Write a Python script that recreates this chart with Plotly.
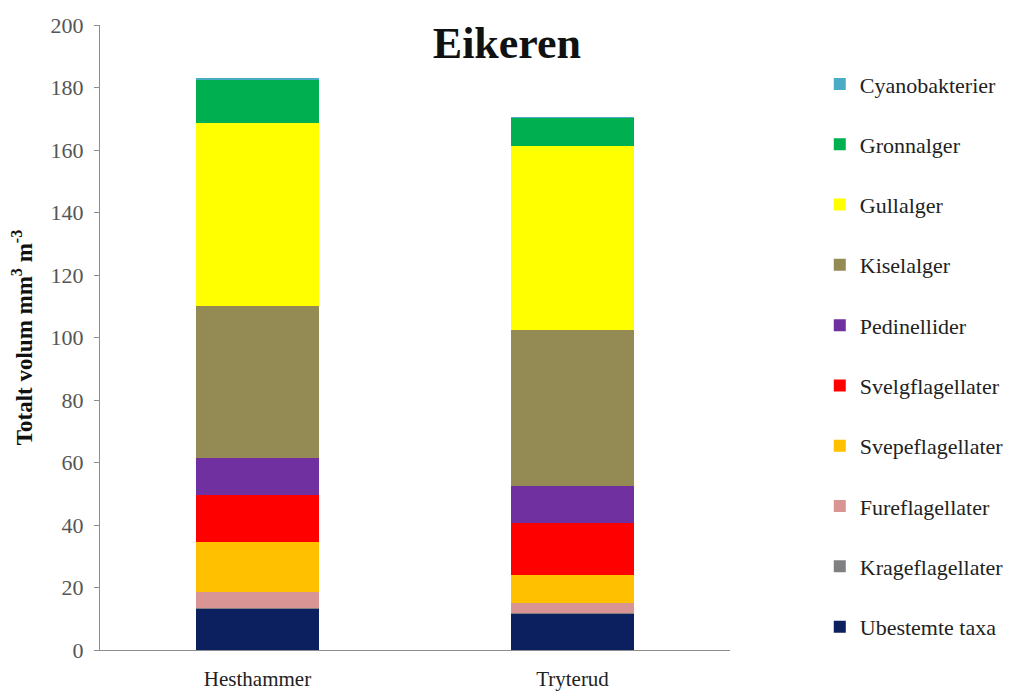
import plotly.graph_objects as go

sites = ["Hesthammer", "Tryterud"]
groups = ["Ubestemte taxa", "Krageflagellater", "Fureflagellater", "Svepeflagellater",
          "Svelgflagellater", "Pedinellider", "Kiselalger", "Gullalger", "Gronnalger",
          "Cyanobakterier"]
ubestemte = [13.3, 11.7]
krage = [0.2, 0.1]
fure = [5.1, 3.1]
svepe = [16.0, 9.1]
svelg = [14.9, 16.5]
pedinell = [12.0, 11.9]
kisel = [48.5, 50.0]
gull = [58.8, 58.9]
gronn = [13.8, 9.0]
cyano = [0.4, 0.1]
values = [ubestemte, krage, fure, svepe, svelg, pedinell, kisel, gull, gronn, cyano]
colors = ["#0c1f5e", "#808080", "#d99594", "#ffc000", "#ff0000", "#7030a0",
          "#948a54", "#ffff00", "#00b050", "#4bacc6"]
yticks = [0, 20, 40, 60, 80, 100, 120, 140, 160, 180, 200]

serif = "Liberation Serif"
fig = go.Figure()
n = len(groups)
for i, (name, vals, col) in enumerate(zip(groups, values, colors)):
    fig.add_trace(go.Bar(x=sites, y=vals, name=name, marker_color=col,
                         marker_line_width=0, legendgroup=name, legendrank=n - i))

fig.update_layout(
    barmode="stack",
    bargap=0.61,
    width=1010, height=684,
    paper_bgcolor="white", plot_bgcolor="white",
    margin=dict(l=92, r=288, t=17, b=42, autoexpand=False),
    font=dict(family=serif, size=20, color="#222222"),
    title=dict(text="<b>Eikeren</b>", x=0.494, xanchor="center", y=0.949, yanchor="middle",
               xref="container", yref="container",
               font=dict(family=serif, size=44, color="#111111")),
    legend=dict(x=1.1425, xanchor="left", xref="paper", y=0.939, yanchor="top",
                traceorder="grouped", tracegroupgap=28.7,
                font=dict(family=serif, size=22, color="#222222"),
                itemwidth=30, bgcolor="rgba(0,0,0,0)"),
    showlegend=True,
)
fig.update_xaxes(showline=True, linecolor="#8c8c8c", linewidth=1, automargin=False,
                 ticks="outside", ticklen=10, tickcolor="rgba(0,0,0,0)",
                 tickfont=dict(family=serif, size=21, color="#222222"))
fig.update_yaxes(range=[0, 200], tickvals=yticks, showgrid=False, zeroline=False,
                 showline=True, linecolor="#8c8c8c", linewidth=1, automargin=False,
                 ticks="outside", ticklen=5, tickcolor="#8c8c8c", ticklabelstandoff=6,
                 tickfont=dict(family=serif, size=22, color="#555555"),
                 title=dict(text="<b>Totalt volum mm<sup>3</sup> m<sup>-3</sup></b>",
                            font=dict(family=serif, size=23, color="#111111"), standoff=12))
fig.write_html("out.html")
